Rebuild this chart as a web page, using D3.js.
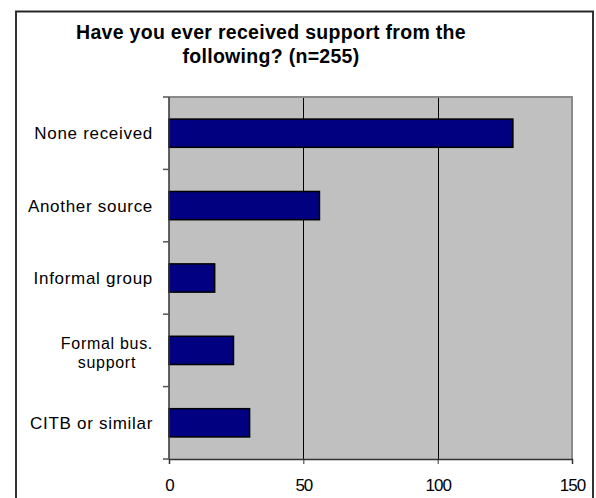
<!DOCTYPE html>
<html><head><meta charset="utf-8">
<script src="https://cdn.jsdelivr.net/npm/d3@7"></script>
<style>
html,body{margin:0;padding:0;background:#fff;}
svg{display:block;font-family:"Liberation Sans",Arial,sans-serif;}
</style></head>
<body><svg id="c" width="596" height="498"></svg>
<script>
const categories = ["None received", "Another source", "Informal group", "Formal bus.\nsupport", "CITB or similar"];
const values = [128, 56, 17, 24, 30];
const xTicks = [0, 50, 100, 150];
const titleLines = ["Have you ever received support from the", "following? (n=255)"];

const svg = d3.select("#c");
const plot = {left: 169, right: 572, top: 97, bottom: 459};

// outer frame
svg.append("rect").attr("x", 16).attr("y", 11.5).attr("width", 577).attr("height", 500)
  .attr("fill", "#fff").attr("stroke", "#333").attr("stroke-width", 2);
svg.append("line").attr("x1",16).attr("x2",593).attr("y1",11.5).attr("y2",11.5).attr("stroke","#222").attr("stroke-width",1);

// title
svg.selectAll("text.title").data(titleLines).join("text").attr("class","title")
  .attr("x", 271).attr("y", (d,i) => 39 + i*24)
  .attr("text-anchor","middle").attr("font-weight","bold").attr("font-size", 19.5)
  .attr("letter-spacing", 0.3)
  .attr("fill","#000").text(d => d);

const x = d3.scaleLinear().domain([0,150]).range([plot.left, plot.right]);
const y = d3.scaleBand().domain(categories).range([plot.top, plot.bottom]).paddingInner(0.61).paddingOuter(0.305);
const step = y.step();

// plot background
svg.append("rect").attr("x", plot.left).attr("y", plot.top)
  .attr("width", plot.right-plot.left).attr("height", plot.bottom-plot.top)
  .attr("fill","#c0c0c0");

// gridlines
svg.selectAll("line.grid").data(xTicks.filter(t => t>0 && t<150)).join("line").attr("class","grid")
  .attr("x1", d => Math.round(x(d))+0.5).attr("x2", d => Math.round(x(d))+0.5)
  .attr("y1", plot.top).attr("y2", plot.bottom).attr("stroke","#000").attr("stroke-width",1);

// plot border (top/right gray)
svg.append("path").attr("d", `M${plot.left},${plot.top} H${plot.right} V${plot.bottom}`)
  .attr("fill","none").attr("stroke","#8a8a8a").attr("stroke-width",2);

// bars
svg.selectAll("rect.bar").data(values).join("rect").attr("class","bar")
  .attr("x", x(0)).attr("y", (d,i) => y(categories[i]))
  .attr("width", d => x(d)-x(0)).attr("height", y.bandwidth())
  .attr("fill","#000080").attr("stroke","#000").attr("stroke-width",1.5);

// x axis
const xAxis = d3.axisBottom(x).tickValues(xTicks).tickSize(5).tickPadding(15);
const gx = svg.append("g").attr("transform", `translate(0,${plot.bottom})`).call(xAxis);
gx.select(".domain").attr("stroke","#333").attr("stroke-width",1.5);
gx.selectAll(".tick line").attr("stroke","#333");
gx.selectAll(".tick text").attr("font-size",17).attr("fill","#000").attr("font-family","'Liberation Sans',Arial,sans-serif").attr("letter-spacing",-1);

// y axis line and boundary ticks
const yBounds = d3.range(categories.length+1).map(i => plot.top + i*step);
svg.append("line").attr("x1", plot.left).attr("x2", plot.left).attr("y1", plot.top).attr("y2", plot.bottom)
  .attr("stroke","#333").attr("stroke-width",1.5);
svg.selectAll("line.ytick").data(yBounds).join("line").attr("class","ytick")
  .attr("x1", plot.left-6).attr("x2", plot.left).attr("y1", d=>d).attr("y2", d=>d)
  .attr("stroke","#555").attr("stroke-width",1.5);

// category labels
const lab = svg.selectAll("g.lab").data(categories).join("g").attr("class","lab");
lab.each(function(d){
  const g = d3.select(this);
  const lines = d.split("\n");
  const cy = y(d) + y.bandwidth()/2 + (lines.length > 1 ? 2 : 0);
  const lh = 19;
  const t = g.append("text").attr("font-size", lines.length > 1 ? 16 : 17).attr("fill","#000").attr("letter-spacing",0.7);
  lines.forEach((l,i) => {
    t.append("tspan").attr("x", 0).attr("y", cy + (i - (lines.length-1)/2)*lh + 6).text(l);
  });
  const widths = [];
  t.selectAll("tspan").each(function(){ widths.push(this.getComputedTextLength()); });
  const maxW = d3.max(widths);
  t.attr("text-anchor","middle");
  t.selectAll("tspan").attr("x", 153 - maxW/2);
});
</script>
</body></html>
